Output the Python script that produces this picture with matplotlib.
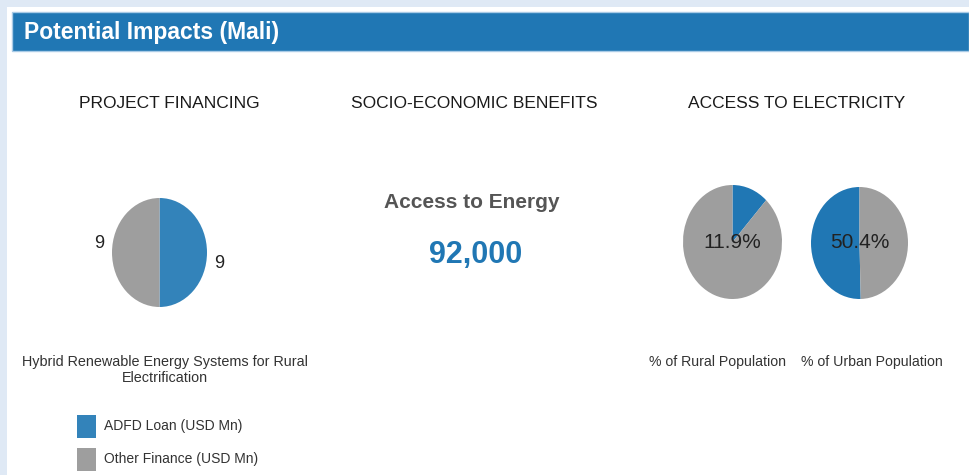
import matplotlib.pyplot as plt
from matplotlib.patches import Rectangle

# data
header = "Potential Impacts (Mali)"
section_titles = ["PROJECT FINANCING", "SOCIO-ECONOMIC BENEFITS", "ACCESS TO ELECTRICITY"]
finance_labels = ["ADFD Loan (USD Mn)", "Other Finance (USD Mn)"]
finance_values = [9, 9]
project_name = "Hybrid Renewable Energy Systems for Rural\nElectrification"
benefit_name = "Access to Energy"
benefit_value = 92000
rural_access = [11.9, 100 - 11.9]
urban_access = [50.4, 100 - 50.4]
access_labels = ["% of Rural Population", "% of Urban Population"]

BLUE = "#2077b4"
BLUE2 = "#3383ba"
GRAY = "#9e9e9e"
W, H = 969, 475
SANS = ["Liberation Sans", "DejaVu Sans"]

fig = plt.figure(figsize=(W / 100, H / 100), dpi=100, facecolor="#dfe9f5")

# background axes in pixel coordinates
bg = fig.add_axes([0, 0, 1, 1])
bg.set_xlim(0, W)
bg.set_ylim(H, 0)
bg.axis("off")
bg.add_patch(Rectangle((7, 7), W - 7, H - 7, facecolor="white", edgecolor="none"))
bg.add_patch(Rectangle((12, 12), W - 12, 39, facecolor=BLUE, edgecolor="#a9cbe6", lw=1))
bg.text(24, 32, header, color="white", fontsize=16.5, fontweight="bold",
        family=SANS, va="center", ha="left")

for x, t in zip([169, 474, 797], section_titles):
    bg.text(x, 104, t, fontsize=12.5, color="#1a1a1a", family=SANS,
            ha="center", va="center")

bg.text(472, 202, benefit_name, fontsize=15, color="#555555", family=SANS,
        fontweight="bold", ha="center", va="center")
bg.text(476, 255, f"{benefit_value:,}", fontsize=22, color=BLUE, fontweight="bold",
        family=SANS, ha="center", va="center")

bg.text(165, 370, project_name, fontsize=10.4, color="#333333", family=SANS,
        ha="center", va="center", linespacing=1.15)

# legend
for i, (lab, col) in enumerate(zip(finance_labels, [BLUE2, GRAY])):
    y = 426 + i * 33
    bg.add_patch(Rectangle((77, y - 11.5), 19, 23, facecolor=col, edgecolor="none"))
    bg.text(104, y, lab, fontsize=10, color="#333333", family=SANS,
            ha="left", va="center")

bg.text(718, 362, access_labels[0], fontsize=10.2, color="#333333", family=SANS,
        ha="center", va="center")
t = bg.text(801, 362, access_labels[1], fontsize=10.2, color="#333333", family=SANS,
            ha="left", va="center")
clip = Rectangle((0, 0), 940, H, transform=bg.transData, visible=False)
bg.add_patch(clip)
t.set_clip_path(clip)


def pie_axes(cx, cy, rx, ry):
    return fig.add_axes([(cx - rx) / W, 1 - (cy + ry) / H, 2 * rx / W, 2 * ry / H])


# project financing pie
ax1 = pie_axes(159.5, 252.5, 47.5, 54.5)
wedges, texts = ax1.pie(finance_values, colors=[BLUE2, GRAY], startangle=90,
                        counterclock=False, labels=[str(v) for v in finance_values],
                        labeldistance=1.16, textprops=dict(fontsize=13, color="#222222",
                                                           family=SANS))
texts[0].set_y(texts[0].get_position()[1] - 0.2)
texts[1].set_y(texts[1].get_position()[1] + 0.17)
ax1.set_aspect("auto")
ax1.set_xlim(-1, 1)
ax1.set_ylim(-1, 1)

ax2 = pie_axes(732.5, 242, 49.5, 57)
ax2.pie(rural_access, colors=[BLUE, GRAY], startangle=90, counterclock=False,
        autopct=lambda p: f"{p:.1f}%" if p < 50 else "", pctdistance=0,
        textprops=dict(fontsize=15, color="#222222", family=SANS))
ax2.set_aspect("auto")
ax2.set_xlim(-1, 1)
ax2.set_ylim(-1, 1)

ax3 = pie_axes(859.5, 243, 48.5, 56)
ax3.pie(urban_access, colors=[BLUE, GRAY], startangle=90, counterclock=True,
        autopct=lambda p: f"{p:.1f}%" if p > 50 else "", pctdistance=0,
        textprops=dict(fontsize=15, color="#222222", family=SANS))
ax3.set_aspect("auto")
ax3.set_xlim(-1, 1)
ax3.set_ylim(-1, 1)

fig.savefig("out.png", dpi=100, facecolor=fig.get_facecolor())
